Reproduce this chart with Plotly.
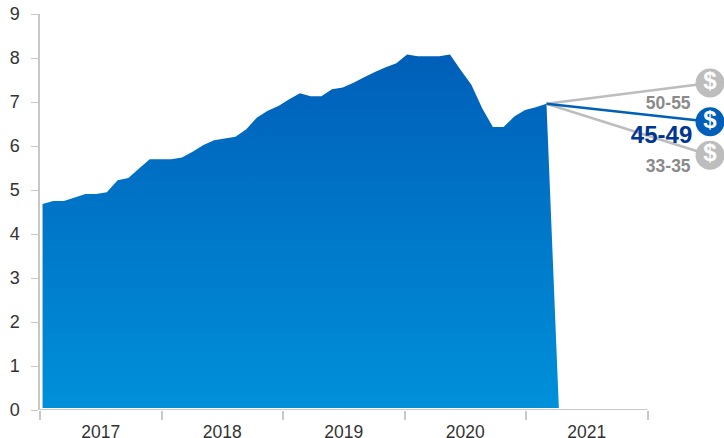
import plotly.graph_objects as go

# Period positions in decimal years
period = [
    2017.021, 2017.109, 2017.197, 2017.286, 2017.374, 2017.462, 2017.550, 2017.639,
    2017.727, 2017.815, 2017.903, 2017.992, 2018.080, 2018.168, 2018.256, 2018.345,
    2018.433, 2018.521, 2018.609, 2018.698, 2018.786, 2018.874, 2018.962, 2019.051,
    2019.139, 2019.227, 2019.315, 2019.403, 2019.492, 2019.580, 2019.668, 2019.756,
    2019.845, 2019.933, 2020.021, 2020.109, 2020.197, 2020.286, 2020.374, 2020.462,
    2020.550, 2020.639, 2020.727, 2020.815, 2020.903, 2020.992, 2021.080, 2021.168,
    2021.270,
]
values = [
    4.68, 4.75, 4.75, 4.83, 4.91, 4.91, 4.95, 5.22,
    5.27, 5.49, 5.70, 5.70, 5.70, 5.74, 5.87, 6.02,
    6.13, 6.17, 6.21, 6.38, 6.65, 6.80, 6.91, 7.06,
    7.20, 7.13, 7.13, 7.29, 7.33, 7.44, 7.56, 7.68,
    7.79, 7.88, 8.08, 8.04, 8.04, 8.04, 8.08, 7.73,
    7.39, 6.86, 6.43, 6.43, 6.67, 6.82, 6.88, 6.96,
    0.045,
]
baseline = 0.045

year_edges = [2017, 2018, 2019, 2020, 2021, 2022]
year_centres = [2017.5, 2018.5, 2019.5, 2020.5, 2021.5]
year_labels = ["2017", "2018", "2019", "2020", "2021"]
y_ticks = [0, 1, 2, 3, 4, 5, 6, 7, 8, 9]

forecast_x = 2022.514
forecast_names = ["50-55", "45-49", "33-35"]
forecast_y = [7.43, 6.55, 5.79]
forecast_colors = ["#bdbdbd", "#0060b9", "#bdbdbd"]
label_x = [2022.17, 2022.115, 2022.17]
label_y = [6.93, 6.21, 5.51]
label_colors = ["#8a8a8a", "#003594", "#8a8a8a"]
label_sizes = [17.5, 24, 17.5]

AXIS = "#c8c8c8"
INK = "#333333"
FONT = "Liberation Sans"

fig = go.Figure()

# Area under the history, shaded from deep blue at the top to lighter blue below
fig.add_trace(go.Scatter(
    x=period + [period[0]],
    y=values[:-1] + [baseline, baseline],
    mode="none",
    fill="toself",
    fillgradient=dict(
        type="vertical",
        colorscale=[[0, "#0090da"], [1, "#005fb8"]],
    ),
    hoverinfo="skip",
    showlegend=False,
))

# Forecast spokes, with the highlighted one drawn last
for i in [0, 2, 1]:
    fig.add_trace(go.Scatter(
        x=[period[47], forecast_x],
        y=[values[47], forecast_y[i]],
        mode="lines",
        line=dict(color=forecast_colors[i], width=2.5),
        cliponaxis=False,
        showlegend=False,
    ))

# Dollar badges at the end of each spoke
for i in [0, 2, 1]:
    fig.add_trace(go.Scatter(
        x=[forecast_x],
        y=[forecast_y[i]],
        mode="markers+text",
        marker=dict(size=29, color=forecast_colors[i]),
        text=["$"],
        textposition="middle center",
        textfont=dict(family=FONT, size=24, color="white", weight="bold"),
        cliponaxis=False,
        showlegend=False,
    ))

# Range labels beside the spokes
for i in range(3):
    fig.add_trace(go.Scatter(
        x=[label_x[i]],
        y=[label_y[i]],
        mode="text",
        text=[forecast_names[i]],
        textposition="middle center",
        textfont=dict(family=FONT, size=label_sizes[i], color=label_colors[i], weight="bold"),
        cliponaxis=False,
        showlegend=False,
    ))

# The x range runs on past 2022 to leave room for the badges, so the
# visible axis line stops at the last year edge
fig.add_shape(
    type="line", xref="x", yref="y",
    x0=year_edges[0], x1=year_edges[-1], y0=0, y1=0,
    line=dict(color=AXIS, width=2),
)

fig.update_layout(
    width=724,
    height=438,
    autosize=False,
    margin=dict(l=39.5, r=0, t=14, b=27.5),
    paper_bgcolor="white",
    plot_bgcolor="white",
    font=dict(family=FONT, size=18, color=INK),
)
fig.update_xaxes(
    range=[2017, 2022.629],
    automargin=False,
    showgrid=False,
    zeroline=False,
    showline=False,
    tickmode="array",
    tickvals=year_centres,
    ticktext=year_labels,
    ticks="",
    ticklabelstandoff=9,
    tickfont=dict(size=17.5),
    minor=dict(
        tickmode="array",
        tickvals=year_edges,
        ticks="outside",
        ticklen=9,
        tickcolor=AXIS,
        tickwidth=1.5,
        showgrid=False,
    ),
)
fig.update_yaxes(
    range=[0, 9],
    automargin=False,
    showgrid=False,
    zeroline=False,
    showline=True,
    linecolor=AXIS,
    linewidth=1.5,
    tickmode="array",
    tickvals=y_ticks,
    ticks="outside",
    ticklen=7,
    tickcolor=AXIS,
    tickwidth=1,
    ticklabelstandoff=8,
)

fig.write_html("out.html")
